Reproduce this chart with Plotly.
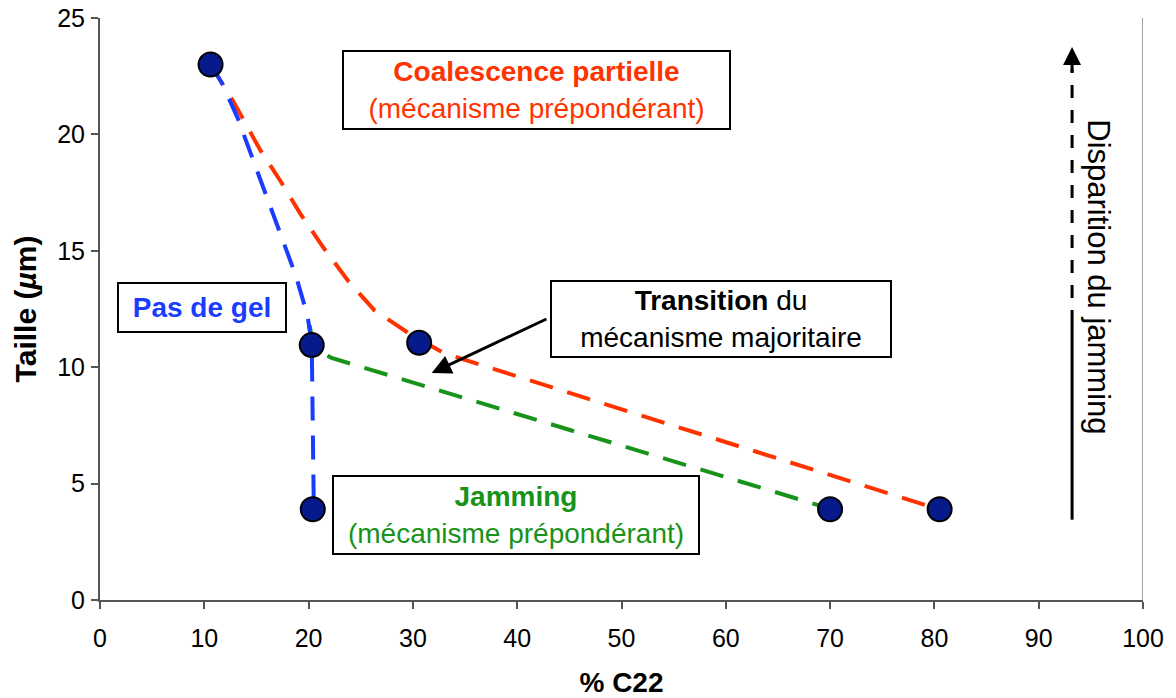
import plotly.graph_objects as go

# measured points
pts_x = [10.6, 20.3, 30.6, 20.4, 70.0, 80.5]
pts_y = [23.0, 10.95, 11.05, 3.9, 3.9, 3.9]

# guide curves
red_x = [10.6, 12.8, 15.4, 17.3, 19.2, 21.4, 23.8, 26.3, 29.8, 33.0, 36.5, 80.4]
red_y = [23.0, 21.4, 19.3, 18.0, 16.6, 15.15, 13.7, 12.45, 11.4, 10.6, 10.1, 3.9]
blue_x = [10.6, 11.7, 13.2, 14.6, 16.1, 17.5, 18.8, 19.9, 20.3, 20.5]
blue_y = [23.0, 22.2, 20.7, 19.0, 17.3, 15.6, 13.9, 12.2, 11.0, 3.9]
green_x = [20.1, 20.5, 22.2, 69.8]
green_y = [11.8, 10.8, 10.4, 3.95]

x_ticks = [0, 10, 20, 30, 40, 50, 60, 70, 80, 90, 100]
y_ticks = [0, 5, 10, 15, 20, 25]

FONT = "Liberation Sans, Arial, sans-serif"
RED = "#ff3300"
BLUE = "#1a3cff"
GREEN = "#18931a"

fig = go.Figure()
fig.add_trace(go.Scatter(x=red_x, y=red_y, mode="lines",
                         line=dict(color=RED, width=4, dash="24px,15px")))
fig.add_trace(go.Scatter(x=green_x, y=green_y, mode="lines",
                         line=dict(color=GREEN, width=4, dash="24px,15px")))
fig.add_trace(go.Scatter(x=blue_x, y=blue_y, mode="lines",
                         line=dict(color=BLUE, width=4, dash="24px,15px")))
fig.add_trace(go.Scatter(x=pts_x, y=pts_y, mode="markers",
                         marker=dict(size=24, color="#061a8c",
                                     line=dict(color="black", width=2))))

ann = []
box = dict(bordercolor="black", borderwidth=2, bgcolor="white", borderpad=0,
           xref="x", yref="y", showarrow=False, align="center")
ann.append(dict(x=41.85, y=21.9, width=385, height=76,
                text="<b>Coalescence partielle</b><br>(mécanisme prépondérant)",
                font=dict(size=28, color=RED, family=FONT), **box))
ann.append(dict(x=9.78, y=12.58, width=166, height=47,
                text="<b>Pas de gel</b>",
                font=dict(size=28, color=BLUE, family=FONT), **box))
ann.append(dict(x=59.5, y=12.07, width=338, height=74,
                text="<b>Transition</b> du<br>mécanisme majoritaire",
                font=dict(size=28, color="black", family=FONT), **box))
ann.append(dict(x=39.9, y=3.65, width=364, height=76,
                text="<b>Jamming</b><br>(mécanisme prépondérant)",
                font=dict(size=28, color=GREEN, family=FONT), **box))
# arrow to the transition
ann.append(dict(x=31.8, y=9.75, ax=42.95, ay=12.1, axref="x", ayref="y",
                xref="x", yref="y", text="", showarrow=True,
                arrowhead=2, arrowsize=1.3, arrowwidth=3, arrowcolor="black"))
# arrow head of the vertical arrow
ann.append(dict(x=93.2, y=23.75, ax=93.2, ay=22.6, axref="x", ayref="y",
                xref="x", yref="y", text="", showarrow=True,
                arrowhead=2, arrowsize=1.2, arrowwidth=3, arrowcolor="black"))
ann.append(dict(x=95.7, y=13.9, xref="x", yref="y", showarrow=False,
                text="Disparition du jamming", textangle=90,
                font=dict(size=31, color="black", family=FONT)))

shapes = [
    dict(type="line", xref="x", yref="y", x0=93.2, x1=93.2, y0=3.45, y1=11.9,
         line=dict(color="black", width=3)),
    dict(type="line", xref="x", yref="y", x0=93.2, x1=93.2, y0=11.9, y1=22.8,
         line=dict(color="black", width=3, dash="13px,12px")),
    dict(type="line", xref="x", yref="paper", x0=100, x1=100, y0=0, y1=1,
         line=dict(color="#a0a0a0", width=2)),
]

fig.update_layout(
    width=1176, height=698,
    margin=dict(l=100, r=33, t=18, b=98, autoexpand=False),
    plot_bgcolor="white", paper_bgcolor="white",
    showlegend=False,
    font=dict(family=FONT, size=25, color="black"),
    annotations=ann, shapes=shapes,
)
fig.update_xaxes(range=[0, 100], tickvals=x_ticks, ticks="outside", ticklen=7,
                 tickcolor="#555", tickwidth=2, showline=True, linecolor="#555",
                 linewidth=2, showgrid=False, zeroline=False, automargin=False,
                 tickfont=dict(size=25), ticklabelstandoff=8, ticklabeloverflow="allow",
                 title=dict(text="<b>% C22</b>", font=dict(size=28), standoff=23))
fig.update_yaxes(range=[0, 25], tickvals=y_ticks, ticks="outside", ticklen=7,
                 tickcolor="#555", tickwidth=2, showline=True, linecolor="#555",
                 linewidth=2, showgrid=False, zeroline=False, automargin=False,
                 tickfont=dict(size=25), ticklabelstandoff=1, ticklabeloverflow="allow",
                 title=dict(text="<b>Taille (<i>µ</i>m)</b>", font=dict(size=30), standoff=12))

# drop the default page margin so the figure sits at the window corner
fig.write_html("out.html", config={"displayModeBar": False},
               post_script="document.body.style.margin='0';")
